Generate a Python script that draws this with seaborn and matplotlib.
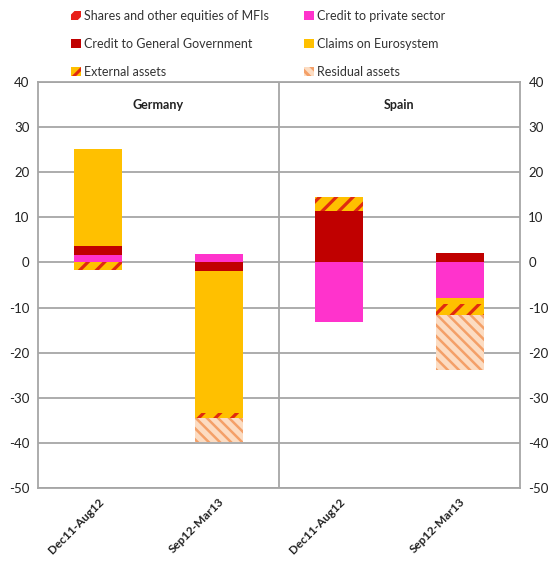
import matplotlib
matplotlib.use("Agg")
import matplotlib.pyplot as plt
import seaborn as sns
import numpy as np
import pandas as pd
from matplotlib.patches import Patch

sns.set_theme(style="white")
plt.rcParams['font.family'] = ['Lato', 'DejaVu Sans']
plt.rcParams['hatch.linewidth'] = 2.2

# ---- data ----
countries = ["Germany", "Germany", "Spain", "Spain"]
periods = ["Dec11-Aug12", "Sep12-Mar13", "Dec11-Aug12", "Sep12-Mar13"]
series_names = ["Shares and other equities of MFIs", "Credit to private sector",
                "Credit to General Government", "Claims on Eurosystem",
                "External assets", "Residual assets"]
shares = [0.0, 0.0, 0.0, 0.0]
credit_private = [1.7, 1.9, -13.3, -7.8]
credit_gov = [2.0, -2.0, 11.4, 2.0]
claims_euro = [21.5, -31.4, 0.0, -1.4]
external = [-1.7, -1.1, 3.1, -2.5]
residual = [0.0, -5.3, 0.0, -12.1]
yticks = [40, 30, 20, 10, 0, -10, -20, -30, -40, -50]

styles = {
    "Shares and other equities of MFIs": dict(color="#E8201A", edgecolor="white", hatch="//", hlw=2.0),
    "Credit to private sector": dict(color="#FF33CC", edgecolor="#FF33CC", hatch=None, hlw=1.0),
    "Credit to General Government": dict(color="#C00000", edgecolor="#C00000", hatch=None, hlw=1.0),
    "Claims on Eurosystem": dict(color="#FFC000", edgecolor="#FFC000", hatch=None, hlw=1.0),
    "External assets": dict(color="#FFC000", edgecolor="#E02A10", hatch="//", hlw=2.3),
    "Residual assets": dict(color="#FCDCC2", edgecolor="#F4A068", hatch="\\\\\\", hlw=1.8),
}

values = [shares, credit_private, credit_gov, claims_euro, external, residual]
keys = [f"{c}|{p}" for c, p in zip(countries, periods)]

fig = plt.figure(figsize=(5.52, 5.71), dpi=100)
ax = fig.add_axes([38/552, 1-488/571, 482/552, 406/571])

pos_base = np.zeros(4)
neg_base = np.zeros(4)
handles = {}
for name, vals in zip(series_names, values):
    v = np.array(vals, dtype=float)
    bottom = np.where(v >= 0, pos_base, neg_base)
    df = pd.DataFrame({"key": keys, "val": v})
    st = styles[name]
    with plt.rc_context({"hatch.linewidth": st["hlw"]}):
        sns.barplot(data=df, x="key", y="val", order=keys, ax=ax, bottom=bottom,
                    color=st["color"], saturation=1, width=0.4, errorbar=None,
                    edgecolor=st["edgecolor"], linewidth=0, hatch=st["hatch"])
        handles[name] = Patch(facecolor=st["color"], edgecolor=st["edgecolor"],
                              hatch=st["hatch"], linewidth=0, label=name)
    pos_base = pos_base + np.where(v >= 0, v, 0)
    neg_base = neg_base + np.where(v < 0, v, 0)

grid_c = "#A6A6A6"
ax.set_ylim(-50, 40)
ax.set_xlim(-0.5, 3.5)
ax.set_yticks(yticks)
ax.set_yticklabels([str(t) for t in yticks], fontsize=9.5, color="#222222")
for t in yticks:
    ax.axhline(t, color=grid_c, lw=1.3, zorder=0)
ax.axvline(1.5, color=grid_c, lw=1.3, zorder=0)
for s in ax.spines.values():
    s.set_color(grid_c)
    s.set_linewidth(1.3)
ax.set_xticks(range(4))
ax.set_xticklabels(periods, rotation=45, ha="right", rotation_mode="anchor",
                   fontsize=8.5, fontweight="bold", color="#222222")
ax.tick_params(axis="both", length=0, pad=6)
ax.set_xlabel("")
ax.set_ylabel("")

ax.text(0.5, 35, "Germany", ha="center", va="center", fontsize=9, fontweight="bold", color="#222222")
ax.text(2.5, 35, "Spain", ha="center", va="center", fontsize=9, fontweight="bold", color="#222222")

ax2 = ax.twinx()
ax2.set_ylim(-50, 40)
ax2.set_yticks(yticks)
ax2.set_yticklabels([str(t) for t in yticks], fontsize=9.5, color="#222222")
ax2.tick_params(axis="y", length=0, pad=6)
for s in ax2.spines.values():
    s.set_visible(False)

order = ["Shares and other equities of MFIs", "Credit to General Government", "External assets",
         "Credit to private sector", "Claims on Eurosystem", "Residual assets"]
fig.legend(handles=[handles[n] for n in order], loc="upper left", bbox_to_anchor=(65/552, 1-4/571),
           ncol=2, frameon=False, fontsize=9, handlelength=0.75, handleheight=0.75,
           handletextpad=0.3, labelspacing=1.25, columnspacing=2.8, borderpad=0,
           labelcolor="#333333")

fig.savefig("out.png", dpi=100)
